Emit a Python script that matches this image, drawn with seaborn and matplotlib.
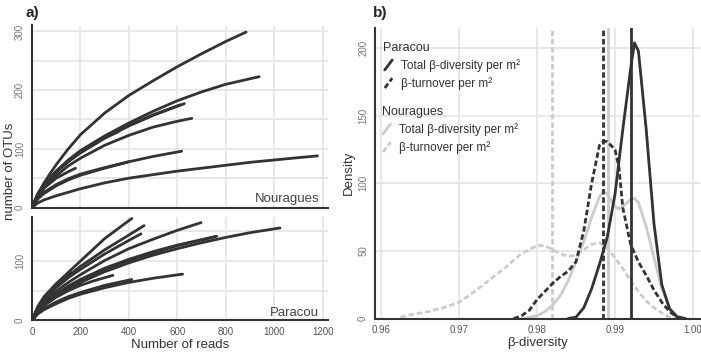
import matplotlib
matplotlib.use("Agg")
import numpy as np
import pandas as pd
import seaborn as sns
import matplotlib.pyplot as plt
from matplotlib.lines import Line2D
from matplotlib.legend_handler import HandlerLine2D

# ---------------- data: rarefaction curves (reads, OTUs) ----------------
nou_reads = [
    [0, 25, 50, 75, 100, 150, 200, 300, 400, 500, 600, 700, 800, 884],
    [0, 25, 50, 100, 150, 200, 300, 400, 500, 600, 700, 800, 938],
    [0, 25, 50, 100, 150, 200, 300, 400, 500, 612],
    [0, 25, 50, 100, 150, 200, 300, 400, 500, 629],
    [0, 25, 50, 100, 150, 200, 300, 356],
    [0, 25, 50, 100, 150, 200, 300, 400, 500, 600, 660],
    [0, 25, 50, 100, 150, 200, 300, 400, 500, 618],
    [0, 25, 50, 100, 150, 200, 300, 400, 500, 600, 700, 800, 900, 1000, 1100, 1179],
    [0, 25, 50, 100, 150, 180],
    [0, 25, 50, 100, 150, 200, 300, 400],
]
nou_otus = [
    [0, 24, 42, 58, 73, 100, 124, 161, 191, 216, 240, 262, 283, 299],
    [0, 23, 38, 62, 81, 97, 122, 144, 164, 182, 197, 210, 223],
    [0, 23, 38, 61, 79, 94, 119, 140, 158, 175],
    [0, 23, 37, 60, 78, 93, 118, 139, 157, 177],
    [0, 23, 38, 62, 80, 95, 119, 129],
    [0, 21, 34, 54, 71, 84, 106, 123, 137, 147, 152],
    [0, 15, 24, 37, 47, 55, 67, 78, 87, 96],
    [0, 8, 13, 20, 26, 32, 42, 50, 56, 62, 67, 72, 77, 81, 85, 88],
    [0, 20, 33, 50, 61, 67],
    [0, 16, 26, 39, 49, 57, 68, 78],
]
par_reads = [
    [0, 25, 50, 100, 150, 200, 300, 412],
    [0, 25, 50, 100, 150, 200, 300, 400, 463],
    [0, 25, 50, 100, 150, 200, 300, 400, 450],
    [0, 25, 50, 100, 150, 200, 300, 400, 500, 600, 698],
    [0, 25, 50, 100, 150, 200, 300, 400, 500, 600, 755],
    [0, 25, 50, 100, 150, 200, 300, 400, 500, 600, 763],
    [0, 25, 50, 100, 150, 200, 300, 400, 500, 600, 700, 800, 900, 1024],
    [0, 25, 50, 100, 150, 200, 250, 334],
    [0, 25, 50, 100, 150, 200, 300, 412],
    [0, 25, 50, 100, 150, 200, 300, 400, 500, 622],
    [0, 25, 50, 100, 130, 158],
    [0, 25, 50, 100, 150, 199],
]
par_otus = [
    [0, 22, 37, 60, 81, 100, 138, 172],
    [0, 21, 35, 57, 75, 91, 119, 144, 160],
    [0, 20, 34, 55, 72, 86, 112, 135, 146],
    [0, 18, 31, 49, 64, 77, 101, 121, 137, 152, 165],
    [0, 16, 27, 43, 56, 67, 86, 101, 114, 126, 141],
    [0, 17, 28, 44, 58, 69, 88, 103, 116, 127, 142],
    [0, 16, 26, 41, 53, 64, 82, 97, 110, 121, 131, 140, 148, 156],
    [0, 15, 25, 39, 50, 59, 66, 76],
    [0, 12, 20, 31, 40, 47, 59, 69],
    [0, 11, 18, 28, 37, 44, 55, 64, 71, 78],
    [0, 24, 40, 62, 73, 82],
    [0, 16, 26, 41, 52, 61],
]

# ---------------- data: beta-diversity densities ----------------
par_total_x = [0.984, 0.985, 0.986, 0.987, 0.988, 0.989, 0.990, 0.991, 0.992, 0.9925,
               0.993, 0.994, 0.995, 0.996, 0.997, 0.998, 0.999]
par_total_y = [0, 1, 8, 22, 40, 60, 92, 140, 185, 204, 198, 140, 70, 25, 7, 1, 0]
par_turn_x = [0.977, 0.978, 0.979, 0.980, 0.981, 0.982, 0.983, 0.984, 0.985, 0.986,
              0.987, 0.988, 0.9885, 0.989, 0.990, 0.9905, 0.991, 0.992, 0.993, 0.994,
              0.995, 0.996, 0.997, 0.998, 0.999]
par_turn_y = [0, 2, 6, 14, 20, 26, 31, 35, 42, 65, 100, 128, 131, 131, 125, 112, 82,
              55, 42, 32, 21, 12, 5, 1, 0]
nou_total_x = [0.978, 0.979, 0.980, 0.981, 0.982, 0.983, 0.984, 0.985, 0.986, 0.987,
               0.988, 0.9885, 0.989, 0.990, 0.9905, 0.991, 0.992, 0.9925, 0.993, 0.994,
               0.995, 0.996, 0.997, 0.998, 0.999]
nou_total_y = [0, 1, 2, 5, 10, 17, 28, 42, 57, 75, 90, 94, 92, 83, 81, 83, 88, 89, 86,
               68, 45, 22, 8, 2, 0]
nou_turn_x = [0.9625, 0.964, 0.966, 0.968, 0.970, 0.972, 0.974, 0.976, 0.978, 0.980,
              0.981, 0.982, 0.983, 0.984, 0.985, 0.986, 0.987, 0.988, 0.989, 0.990,
              0.991, 0.992, 0.993, 0.994, 0.995, 0.996, 0.997, 0.998]
nou_turn_y = [1, 3, 5, 8, 12, 20, 29, 38, 48, 54, 54, 51, 48, 46, 47, 51, 55, 56, 52,
              45, 37, 28, 20, 13, 8, 4, 1, 0]
# means (vertical lines)
par_total_mean = 0.9921
par_turn_mean = 0.9885
nou_total_mean = 0.9891
nou_turn_mean = 0.9819

DARK = "#333333"
LIGHT = "#cccccc"
GRID = "#e6e6e6"
TICKC = "#555555"

sns.set_style("white")
plt.rcParams['font.family'] = ['Liberation Sans', 'DejaVu Sans']


def curves_df(reads, otus):
    rows = []
    for i, (r, o) in enumerate(zip(reads, otus)):
        for a, b in zip(r, o):
            rows.append((i, a, b))
    return pd.DataFrame(rows, columns=["curve", "reads", "otus"])


df_n = curves_df(nou_reads, nou_otus)
df_p = curves_df(par_reads, par_otus)

fig = plt.figure(figsize=(7.01, 3.56), dpi=100)
ax_top = fig.add_axes([0.0456, 0.4171, 0.4223, 0.5126])
ax_bot = fig.add_axes([0.0456, 0.1003, 0.4223, 0.291])
ax_r = fig.add_axes([0.535, 0.1053, 0.4636, 0.816])


def style_axes(ax):
    for s in ["top", "right"]:
        ax.spines[s].set_visible(False)
    for s in ["left", "bottom"]:
        ax.spines[s].set_color(DARK)
        ax.spines[s].set_linewidth(1.5)
    ax.set_axisbelow(True)
    ax.grid(True, which="both", color=GRID, lw=1.3)
    ax.tick_params(axis="both", which="major", length=3, width=1, color=DARK,
                   labelcolor=TICKC, labelsize=7, pad=2)
    ax.tick_params(axis="y", which="major", labelcolor="#777777")
    ax.tick_params(axis="both", which="minor", length=0)


for ax, df, ymax, label in [(ax_top, df_n, 311, "Nouragues"), (ax_bot, df_p, 175, "Paracou")]:
    sns.lineplot(data=df, x="reads", y="otus", units="curve", estimator=None,
                 color=DARK, linewidth=2, sort=False, legend=False, ax=ax)
    style_axes(ax)
    ax.set_xlim(0, 1222)
    ax.set_ylim(0, ymax)
    ax.set_xticks([0, 200, 400, 600, 800, 1000, 1200])
    ax.set_yticks(list(range(0, ymax, 100)))
    ax.set_yticks(list(range(50, ymax, 100)), minor=True)
    ax.set_xlabel("")
    ax.set_ylabel("")
    for t in ax.get_yticklabels():
        t.set_rotation(90)
        t.set_va("center")
    ax.text(0.97, 0.015, label, transform=ax.transAxes, ha="right", va="bottom",
            fontsize=9.5, color="#444444")

ax_top.tick_params(axis="x", length=0, labelbottom=False)
ax_bot.set_xlabel("Number of reads", fontsize=9.5, color="#333333", labelpad=1)
fig.text(0.014, 0.52, "number of OTUs", rotation=90, ha="center", va="center",
         fontsize=9.5, color="#333333")

# ---------------- right panel ----------------
dens = []
for site, metric, xs, ys in [("Nouragues", "turnover", nou_turn_x, nou_turn_y),
                             ("Nouragues", "total", nou_total_x, nou_total_y),
                             ("Paracou", "turnover", par_turn_x, par_turn_y),
                             ("Paracou", "total", par_total_x, par_total_y)]:
    for a, b in zip(xs, ys):
        dens.append((site, metric, a, b))
df_d = pd.DataFrame(dens, columns=["site", "metric", "beta", "density"])

DASH = (0, (2.0, 1.0))
ax_r.axvline(nou_turn_mean, color=LIGHT, lw=2, ls=DASH)
ax_r.axvline(nou_total_mean, color=LIGHT, lw=2)
for (site, metric), col, ls in [(("Nouragues", "turnover"), LIGHT, DASH),
                                (("Nouragues", "total"), LIGHT, "-"),
                                (("Paracou", "turnover"), DARK, DASH),
                                (("Paracou", "total"), DARK, "-")]:
    sub = df_d[(df_d.site == site) & (df_d.metric == metric)]
    sns.lineplot(data=sub, x="beta", y="density", color=col, linewidth=2,
                 linestyle=ls, sort=False, legend=False, ax=ax_r)
ax_r.axvline(par_turn_mean, color=DARK, lw=2, ls=DASH)
ax_r.axvline(par_total_mean, color=DARK, lw=2)

style_axes(ax_r)
ax_r.set_xlim(0.95923, 1.0009)
ax_r.set_ylim(0, 215)
ax_r.set_xticks([0.96, 0.97, 0.98, 0.99, 1.00])
ax_r.set_xticklabels(["0.96", "0.97", "0.98", "0.99", "1.00"])
ax_r.set_yticks([0, 50, 100, 150, 200])
for t in ax_r.get_yticklabels():
    t.set_rotation(90)
    t.set_va("center")
ax_r.set_xlabel("β-diversity", fontsize=9.5, color="#333333", labelpad=1)
ax_r.set_ylabel("Density", fontsize=9.5, color="#333333", labelpad=2)


class DiagHandler(HandlerLine2D):
    def create_artists(self, legend, orig_handle, xdescent, ydescent, width,
                       height, fontsize, trans):
        x0 = -xdescent + width * 0.15
        x1 = -xdescent + width * 0.85
        y0 = -ydescent - height * 0.1
        y1 = -ydescent + height * 1.1
        ln = Line2D([x0, x1], [y0, y1])
        self.update_prop(ln, orig_handle, legend)
        ln.set_transform(trans)
        return [ln]


labels = ["Total β-diversity per m²", "β-turnover per m²"]
h_pt = Line2D([], [], color=DARK, lw=2)
h_pd = Line2D([], [], color=DARK, lw=2, ls=DASH)
h_nt = Line2D([], [], color=LIGHT, lw=2)
h_nd = Line2D([], [], color=LIGHT, lw=2, ls=DASH)
leg_kw = dict(loc="upper left", frameon=False, handler_map={Line2D: DiagHandler()},
              handlelength=0.9, handletextpad=0.6, labelspacing=0.45, fontsize=8.5,
              title_fontsize=9, alignment="left", borderaxespad=0, borderpad=0)
leg1 = ax_r.legend([h_pt, h_pd], labels, title="Paracou",
                   bbox_to_anchor=(0.025, 0.952), **leg_kw)
leg1.get_title().set_color("#333333")
ax_r.add_artist(leg1)
leg2 = ax_r.legend([h_nt, h_nd], labels, title="Nouragues",
                   bbox_to_anchor=(0.02, 0.732), **leg_kw)
leg2.get_title().set_color("#333333")
for lg in (leg1, leg2):
    for t in lg.get_texts():
        t.set_color("#333333")

fig.text(0.046, 0.963, "a)", fontsize=11, weight="bold", ha="center", va="center")
fig.text(0.543, 0.963, "b)", fontsize=11, weight="bold", ha="center", va="center")

fig.savefig("out.png", dpi=100)
